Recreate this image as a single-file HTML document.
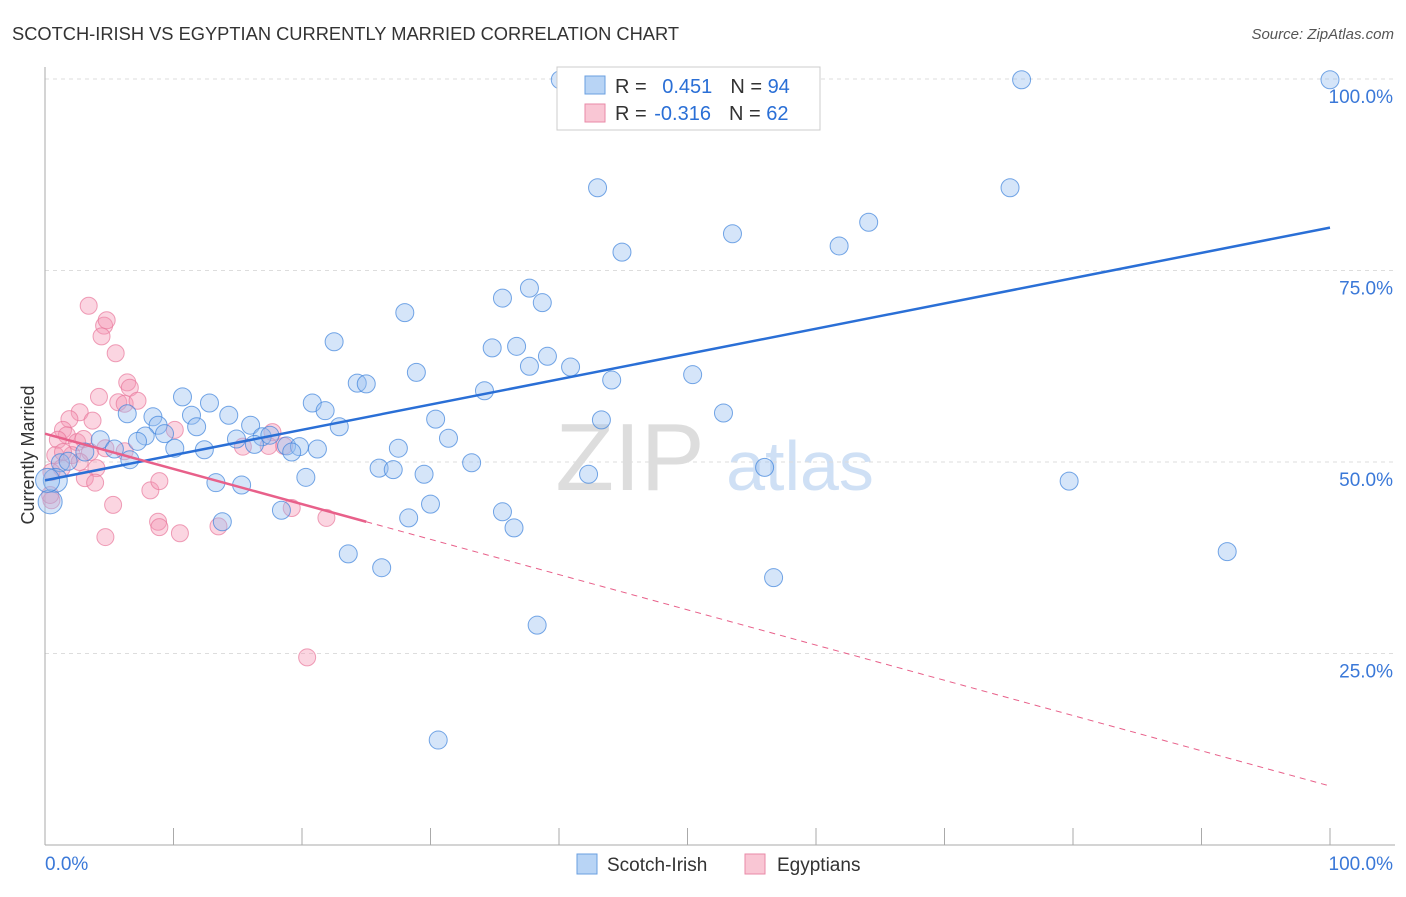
<!DOCTYPE html>
<html><head><meta charset="utf-8"><style>
body{margin:0;background:#fff;font-family:"Liberation Sans",sans-serif}
svg text{font-family:"Liberation Sans",sans-serif}
</style></head><body>
<svg id="chart" width="1406" height="892" xmlns="http://www.w3.org/2000/svg">
<text x="12" y="40" font-size="18.3" fill="#333">SCOTCH-IRISH VS EGYPTIAN CURRENTLY MARRIED CORRELATION CHART</text>
<text x="1394" y="39" font-size="15" fill="#555" text-anchor="end" font-style="italic">Source: ZipAtlas.com</text>
<text x="34" y="455" font-size="18" fill="#333" text-anchor="middle" transform="rotate(-90 34 455)">Currently Married</text>
<text x="630" y="490" font-size="96" fill="#ddd" font-family="Liberation Serif" text-anchor="middle">ZIP</text>
<text x="800" y="490" font-size="70" fill="#cfe0f5" text-anchor="middle">atlas</text>
<g id="grid"></g><g id="pts"></g><g id="lines"></g>
<g>
<rect x="557" y="67" width="263" height="63" fill="#fff" stroke="#ccc"/>
<rect x="585" y="76" width="20" height="18" fill="#b8d4f5" stroke="#6a9fe0"/>
<rect x="585" y="104" width="20" height="18" fill="#f9c6d4" stroke="#e98aa7"/>
<text x="615" y="93" font-size="20" fill="#333">R = <tspan fill="#2a6fd6" dx="10">0.451</tspan><tspan fill="#333" dx="18">N = </tspan><tspan fill="#2a6fd6">94</tspan></text>
<text x="615" y="120" font-size="20" fill="#333">R = <tspan fill="#2a6fd6" dx="2">-0.316</tspan><tspan fill="#333" dx="18">N = </tspan><tspan fill="#2a6fd6">62</tspan></text>
</g>
<g>
<rect x="577" y="854" width="20" height="20" fill="#b8d4f5" stroke="#6a9fe0"/>
<text x="607" y="871" font-size="19" fill="#333">Scotch-Irish</text>
<rect x="745" y="854" width="20" height="20" fill="#f9c6d4" stroke="#e98aa7"/>
<text x="777" y="871" font-size="19" fill="#333">Egyptians</text>
</g>
</svg>
<script>
const yTicks=[25,50,75,100];
const yTickLabels=["25.0%","50.0%","75.0%","100.0%"];
const blueX=[40.1,48.8,76,100,43,75.1,44.9,53.5,61.8,64.1,37.7,35.6,38.7,28,22.5,34.8,36.7,39.1,37.7,40.9,28.9,44.1,50.4,24.3,25,34.2,10.7,12.8,20.8,6.4,8.4,11.4,14.3,21.8,30.4,43.3,52.8,8.8,11.8,16,22.9,7.8,9.3,14.9,16.9,17.5,31.4,4.3,7.2,10.1,12.4,16.3,18.8,19.8,21.2,27.5,19.2,5.4,3.1,6.6,1.2,1.8,26,27.1,29.5,33.2,56,42.3,79.7,20.3,13.3,15.3,0.8,30,18.4,28.3,35.6,36.5,13.8,23.6,92,26.2,56.7,38.3,30.6,0.4,0.2];
const blueY=[99.9,99.9,99.9,99.9,85.8,85.8,77.4,79.8,78.2,81.3,72.7,71.4,70.8,69.5,65.7,64.9,65.1,63.8,62.5,62.4,61.7,60.7,61.4,60.3,60.2,59.3,58.5,57.7,57.7,56.3,55.9,56.1,56.1,56.7,55.6,55.5,56.4,54.8,54.6,54.8,54.6,53.4,53.7,53,53.3,53.5,53.1,52.9,52.7,51.8,51.6,52.3,52.1,52,51.7,51.8,51.3,51.7,51.3,50.3,49.9,50.1,49.2,49,48.4,49.9,49.3,48.4,47.5,48,47.3,47,47.6,44.5,43.7,42.7,43.5,41.4,42.2,38,38.3,36.2,34.9,28.7,13.7,44.8,47.6];
const pinkX=[3.4,4.6,4.8,4.4,5.5,6.4,6.6,4.2,5.7,6.2,7.2,2.7,1.9,3.7,1.4,1.7,1,2.5,3,0.8,2.1,3.5,1.3,2.7,4,0.5,3.1,3.9,10.1,17.7,18.6,15.4,17.4,6.2,8.2,8.9,5.3,0.5,0.4,8.8,8.9,10.5,13.5,4.7,19.2,21.9,20.4,4.7,1.4];
const pinkY=[70.4,67.8,68.5,66.4,64.2,60.4,59.7,58.5,57.8,57.6,58,56.5,55.6,55.4,54.2,53.5,52.9,52.6,53,50.9,50.9,51.3,49.2,50,49.2,48.7,47.9,47.3,54.2,53.9,52.1,52,52.1,51.4,46.3,47.5,44.4,45,45.7,42.2,41.5,40.7,41.6,40.2,44,42.7,24.5,51.8,51.3];
const blueTrend=[47.6,80.6];
const pinkTrend=[53.7,7.7];
const pinkSolidEnd=25;
const NS="http://www.w3.org/2000/svg";
const X=v=>45+v*12.85, Y=v=>845-v*7.66;
function mk(t,a,p){const e=document.createElementNS(NS,t);for(const k in a)e.setAttribute(k,a[k]);p.appendChild(e);return e;}
const grid=document.getElementById('grid');
yTicks.forEach((t,i)=>{
 const l=mk('line',{x1:45,x2:1395,y1:Y(t),y2:Y(t),stroke:'#ddd','stroke-dasharray':'4,4'},grid);
 
 
 const tx=mk('text',{x:1393,y:Y(t)+24,'font-size':19,fill:'#3a78d8','text-anchor':'end'},grid);
 tx.textContent=yTickLabels[i];
 
 
});
mk('line',{x1:45,x2:45,y1:67,y2:845,stroke:'#aaa'},grid);
mk('line',{x1:45,x2:1395,y1:845,y2:845,stroke:'#aaa'},grid);
for(let i=0;i<=10;i++){mk('line',{x1:X(i*10),x2:X(i*10),y1:828,y2:845,stroke:'#aaa'},grid);}
const xl=mk('text',{x:45,y:870,'font-size':19,fill:'#3a78d8'},grid);xl.textContent='0.0%';


const xr=mk('text',{x:1393,y:870,'font-size':19,fill:'#3a78d8','text-anchor':'end'},grid);xr.textContent='100.0%';


const pts=document.getElementById('pts');
pinkX.forEach((x,i)=>{const c=mk('circle',{cx:X(x),cy:Y(pinkY[i]),r:8.5,fill:'rgba(244,150,180,0.4)',stroke:'rgba(232,120,155,0.7)'},pts);
 
 });
blueX.forEach((x,i)=>{const c=mk('circle',{cx:X(x),cy:Y(blueY[i]),r:(x<1?12:9),fill:'rgba(150,190,240,0.4)',stroke:'rgba(60,130,220,0.7)'},pts);
 
 });
const lines=document.getElementById('lines');
const bl=mk('line',{x1:X(0),y1:Y(blueTrend[0]),x2:X(100),y2:Y(blueTrend[1]),stroke:'#2a6fd6','stroke-width':2.5},lines);


const pe=pinkTrend[0]+(pinkTrend[1]-pinkTrend[0])*pinkSolidEnd/100;
const pl=mk('line',{x1:X(0),y1:Y(pinkTrend[0]),x2:X(pinkSolidEnd),y2:Y(pe),stroke:'#e8608a','stroke-width':2.5},lines);


const pd=mk('line',{x1:X(pinkSolidEnd),y1:Y(pe),x2:X(100),y2:Y(pinkTrend[1]),stroke:'#e8608a','stroke-width':1,'stroke-dasharray':'6,5'},lines);


</script>
</body></html>
